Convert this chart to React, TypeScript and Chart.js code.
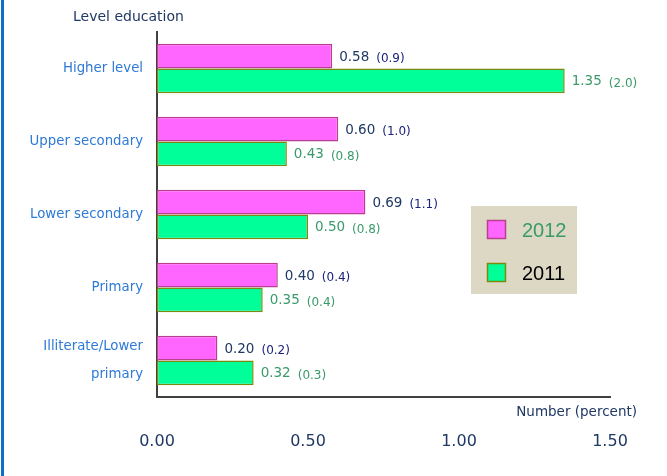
import React, { useEffect, useRef } from "react";
import { Chart, registerables } from "chart.js";

Chart.register(...registerables);

const categories: (string | string[])[] = [
  "Higher level",
  "Upper secondary",
  "Lower secondary",
  "Primary",
  ["Illiterate/Lower", "primary"],
];
const values2012 = [0.58, 0.6, 0.69, 0.4, 0.2];
const share2012 = ["0.9", "1.0", "1.1", "0.4", "0.2"];
const values2011 = [1.35, 0.43, 0.5, 0.35, 0.32];
const share2011 = ["2.0", "0.8", "0.8", "0.4", "0.3"];
const seriesNames = ["2012", "2011"];
const xTicks = [0, 0.5, 1.0, 1.5];

const PINK = "#FF66FF";
const PINK_BORDER = "#B8408E";
const GREEN = "#00FF99";
const GREEN_BORDER = "#7A8A10";
const NAVY = "#1F3864";
const INDIGO = "#1A237E";
const LABEL_GREEN = "#3A9A6A";
const FONT = "'DejaVu Sans', Verdana, sans-serif";

const decorPlugin = {
  id: "decor",
  beforeDraw(chart: any) {
    const ctx = chart.ctx;
    ctx.save();
    ctx.fillStyle = "#ffffff";
    ctx.fillRect(0, 0, chart.width, chart.height);
    ctx.fillStyle = "#0A6FC8";
    ctx.fillRect(1, 0, 3, chart.height);
    ctx.restore();
  },
  afterDatasetsDraw(chart: any) {
    const ctx = chart.ctx;
    ctx.save();
    ctx.textBaseline = "middle";
    ctx.textAlign = "left";
    const sets = [
      { vals: values2012, sh: share2012, c1: NAVY, c2: INDIGO },
      { vals: values2011, sh: share2011, c1: LABEL_GREEN, c2: LABEL_GREEN },
    ];
    sets.forEach((s, di) => {
      const meta = chart.getDatasetMeta(di);
      meta.data.forEach((bar: any, i: number) => {
        const x0 = bar.x + 7;
        const y = bar.y + 1;
        ctx.font = `13.5px ${FONT}`;
        ctx.fillStyle = s.c1;
        const t = s.vals[i].toFixed(2);
        ctx.fillText(t, x0, y);
        const w = ctx.measureText(t).width;
        ctx.font = `12px ${FONT}`;
        ctx.fillStyle = s.c2;
        ctx.fillText(`(${s.sh[i]})`, x0 + w + 7, y + 2);
      });
    });

    // axis titles
    ctx.font = `14px ${FONT}`;
    ctx.fillStyle = NAVY;
    ctx.textAlign = "left";
    ctx.fillText("Level education", 73, 17);
    ctx.font = `13.5px ${FONT}`;
    ctx.textAlign = "right";
    ctx.fillText("Number (percent)", 637, 412);

    // legend
    ctx.fillStyle = "#DCD8C3";
    ctx.fillRect(471, 206, 106, 88);
    const items = [
      { fill: PINK, border: PINK_BORDER, color: LABEL_GREEN, y: 220 },
      { fill: GREEN, border: GREEN_BORDER, color: "#000000", y: 263 },
    ];
    items.forEach((it, k) => {
      ctx.fillStyle = it.fill;
      ctx.fillRect(487, it.y, 19, 19);
      ctx.strokeStyle = it.border;
      ctx.lineWidth = 1.5;
      ctx.strokeRect(487.5, it.y + 0.5, 18, 18);
      ctx.font = `20px 'Liberation Sans', Arial, sans-serif`;
      ctx.fillStyle = it.color;
      ctx.textAlign = "left";
      ctx.textBaseline = "middle";
      ctx.fillText(seriesNames[k], 522, it.y + 11);
    });
    ctx.restore();
  },
};

export default function App() {
  const ref = useRef<HTMLCanvasElement | null>(null);
  useEffect(() => {
    if (!ref.current) return;
    const chart = new Chart(ref.current, {
      type: "bar",
      data: {
        labels: categories as any,
        datasets: [
          {
            label: seriesNames[0],
            data: values2012,
            backgroundColor: PINK,
            borderColor: PINK_BORDER,
            borderWidth: 1.5,
            borderSkipped: false,
            categoryPercentage: 0.68,
            barPercentage: 1,
          },
          {
            label: seriesNames[1],
            data: values2011,
            backgroundColor: GREEN,
            borderColor: GREEN_BORDER,
            borderWidth: 1.5,
            borderSkipped: false,
            categoryPercentage: 0.68,
            barPercentage: 1,
          },
        ],
      },
      options: {
        indexAxis: "y",
        animation: false,
        responsive: false,
        maintainAspectRatio: false,
        layout: { padding: { top: 32, right: 57, left: 0, bottom: 0 } },
        plugins: {
          legend: { display: false },
          tooltip: { enabled: false },
        },
        scales: {
          x: {
            min: 0,
            max: 1.5,
            afterBuildTicks: (scale: any) => {
              scale.ticks = xTicks.map((v) => ({ value: v }));
            },
            afterFit: (scale: any) => {
              scale.height = 79;
              scale.paddingLeft = 0;
              scale.paddingRight = 0;
            },
            ticks: {
              padding: 35,
              color: NAVY,
              font: { family: FONT, size: 16 },
              callback: (v: any) => Number(v).toFixed(2),
            },
            grid: { display: false, drawTicks: false },
            border: { display: true, color: "#404040", width: 2 },
          },
          y: {
            afterFit: (scale: any) => {
              scale.width = 157;
              scale.paddingTop = 0;
              scale.paddingBottom = 0;
            },
            ticks: {
              padding: 14,
              color: "#2E7AD6",
              font: { family: FONT, size: 13.3, lineHeight: 2.15 },
            },
            grid: { display: false, drawTicks: false },
            border: { display: true, color: "#404040", width: 2 },
          },
        },
      },
      plugins: [decorPlugin],
    } as any);
    return () => chart.destroy();
  }, []);
  return (
    <div style={{ position: "fixed", left: 0, top: 0, width: 667, height: 476 }}>
      <canvas ref={ref} width={667} height={476} style={{ display: "block" }} />
    </div>
  );
}
